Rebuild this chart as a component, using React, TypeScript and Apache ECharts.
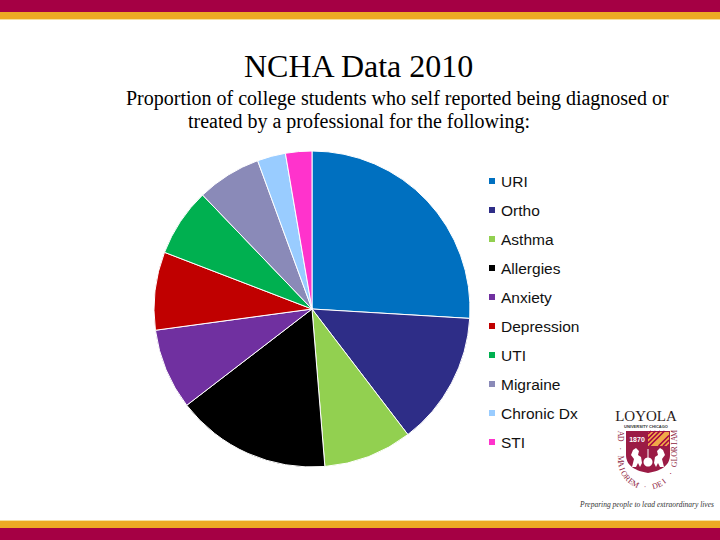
import React, { useEffect, useRef } from "react";
import * as echarts from "echarts";

const categories = ["URI", "Ortho", "Asthma", "Allergies", "Anxiety", "Depression", "UTI", "Migraine", "Chronic Dx", "STI"];
const values = [26.0, 13.7, 9.1, 15.9, 8.3, 8.0, 7.0, 6.6, 2.9, 2.7];
const colors = ["#0070C0", "#2E2D87", "#92D050", "#000000", "#7030A0", "#C00000", "#00B050", "#8A8AB8", "#99CCFF", "#FF33CC"];
const titleText = "NCHA Data 2010";
const subtitleLines = [
  "Proportion of college students who self reported being diagnosed or",
  "treated by a professional for the following:",
];
const motto = "AD · MAIOREM · DEI · GLORIAM";
const tagline = "Preparing people to lead extraordinary lives";

const CRIMSON = "#A50044";
const GOLD = "#EDAA24";

function buildMotto(): any[] {
  // path: left line down, semicircle bottom, right line up
  const cx = 647.5, cy = 460, r = 27, top = 431;
  const lineLen = cy - top;
  const arcLen = Math.PI * r;
  const total = lineLen * 2 + arcLen;
  const chars = motto.split("");
  const n = chars.length;
  const els: any[] = [];
  chars.forEach((ch, i) => {
    if (ch === " ") return;
    const s = ((i + 0.5) / n) * total;
    let x, y, rot;
    if (s < lineLen) {
      x = cx - r; y = top + s; rot = -Math.PI / 2;
    } else if (s < lineLen + arcLen) {
      const phi = (s - lineLen) / r;
      x = cx - r * Math.cos(phi); y = cy + r * Math.sin(phi); rot = phi - Math.PI / 2;
    } else {
      const t = s - lineLen - arcLen;
      x = cx + r; y = cy - t; rot = Math.PI / 2;
    }
    els.push({
      type: "text", x, y, rotation: rot, silent: true,
      style: { text: ch, fill: "#8E1B40", font: "8px 'Liberation Serif'", align: "center", verticalAlign: "middle" },
    });
  });
  return els;
}

function buildStripes(): any[] {
  const x0 = 648, x1 = 669, y0 = 431, y1 = 446;
  const els: any[] = [];
  for (let c = x0 + y0 + 3; c < x1 + y1; c += 4.5) {
    const pts: number[][] = [];
    const cand = [
      [x0, c - x0], [x1, c - x1], [c - y0, y0], [c - y1, y1],
    ];
    cand.forEach(([x, y]) => {
      if (x >= x0 - 0.01 && x <= x1 + 0.01 && y >= y0 - 0.01 && y <= y1 + 0.01) pts.push([x, y]);
    });
    if (pts.length >= 2) {
      els.push({ type: "line", silent: true, shape: { x1: pts[0][0], y1: pts[0][1], x2: pts[1][0], y2: pts[1][1] }, style: { stroke: CRIMSON, lineWidth: 1.6 } });
    }
  }
  return els;
}

let registered = false;
function registerShapes() {
  if (registered) return;
  registered = true;
  echarts.graphic.registerShape(
    "shield",
    echarts.graphic.extendPath("M0 0 H44 V24 C44 35 34 40 22 42 C10 40 0 35 0 24 Z", {})
  );
  echarts.graphic.registerShape(
    "lion",
    echarts.graphic.extendPath("M2 20 L4 12 L1 8 L3 3 L6 1 L9 4 L8 8 L11 10 L12 16 L10 20 L8 16 L6 20 Z", {})
  );
}

export default function App() {
  const ref = useRef<HTMLDivElement>(null);
  useEffect(() => {
    if (!ref.current) return;
    registerShapes();
    const chart = echarts.init(ref.current, undefined, { renderer: "svg" });
    const graphic: any[] = [
      { type: "rect", silent: true, shape: { x: 0, y: 0, width: 720, height: 12 }, style: { fill: CRIMSON } },
      { type: "rect", silent: true, shape: { x: 0, y: 12, width: 720, height: 7 }, style: { fill: GOLD } },
      { type: "rect", silent: true, shape: { x: 0, y: 19, width: 720, height: 1 }, style: { fill: "#F6E2A0" } },
      { type: "rect", silent: true, shape: { x: 0, y: 520, width: 720, height: 1 }, style: { fill: "#F6E2A0" } },
      { type: "rect", silent: true, shape: { x: 0, y: 521, width: 720, height: 7 }, style: { fill: GOLD } },
      { type: "rect", silent: true, shape: { x: 0, y: 528, width: 720, height: 12 }, style: { fill: CRIMSON } },
      // logo
      { type: "text", silent: true, x: 646, y: 416, style: { text: "LOYOLA", fill: "#2a1a1a", font: "15px 'Liberation Serif'", align: "center", verticalAlign: "middle" } },
      { type: "text", silent: true, x: 646, y: 426, style: { text: "UNIVERSITY CHICAGO", fill: "#333", font: "bold 4px 'Liberation Sans'", align: "center", verticalAlign: "middle" } },
      { type: "shield", silent: true, x: 626, y: 431, style: { fill: "#9B1B45" } },
      { type: "rect", silent: true, shape: { x: 648, y: 432, width: 21, height: 14 }, style: { fill: "#F0A848" } },
      ...buildStripes(),
      { type: "text", silent: true, x: 637, y: 439, style: { text: "1870", fill: "#fff", font: "bold 7px 'Liberation Sans'", align: "center", verticalAlign: "middle" } },
      { type: "lion", silent: true, x: 630, y: 447, style: { fill: "#fff" } },
      { type: "lion", silent: true, x: 666, y: 447, scaleX: -1, style: { fill: "#fff" } },
      { type: "circle", silent: true, shape: { cx: 648, cy: 462, r: 4.5 }, style: { fill: "#fff" } },
      { type: "line", silent: true, shape: { x1: 648, y1: 449, x2: 648, y2: 458 }, style: { stroke: "#fff", lineWidth: 1 } },
      ...buildMotto(),
      { type: "text", silent: true, x: 647, y: 504, style: { text: tagline, fill: "#333", font: "italic 7.5px 'Liberation Serif'", align: "center", verticalAlign: "middle" } },
    ];
    chart.setOption({
      animation: false,
      backgroundColor: "#ffffff",
      title: [
        { text: titleText, left: 244, top: 50, padding: 0, textStyle: { fontFamily: "Liberation Serif", fontSize: 32, fontWeight: "normal", color: "#000" } },
        { text: subtitleLines[0], left: 126, top: 88, padding: 0, textStyle: { fontFamily: "Liberation Serif", fontSize: 20, fontWeight: "normal", color: "#000" } },
        { text: subtitleLines[1], left: 188, top: 111, padding: 0, textStyle: { fontFamily: "Liberation Serif", fontSize: 20, fontWeight: "normal", color: "#000" } },
      ],
      legend: {
        orient: "vertical",
        left: 487,
        top: 173,
        padding: 0,
        itemWidth: 8,
        itemHeight: 8,
        itemGap: 13,
        icon: "rect",
        selectedMode: false,
        textStyle: { fontFamily: "Liberation Sans", fontSize: 15.5, lineHeight: 16, color: "#111" },
        data: categories,
      },
      graphic,
      series: [
        {
          type: "pie",
          center: [312, 309],
          radius: 158,
          startAngle: 90,
          clockwise: true,
          label: { show: false },
          labelLine: { show: false },
          emphasis: { disabled: true },
          itemStyle: { borderColor: "#ffffff", borderWidth: 1 },
          data: categories.map((c, i) => ({ name: c, value: values[i], itemStyle: { color: colors[i] } })),
        },
      ],
    });
    return () => chart.dispose();
  }, []);
  return <div ref={ref} style={{ position: "fixed", left: 0, top: 0, width: 720, height: 540 }} />;
}
